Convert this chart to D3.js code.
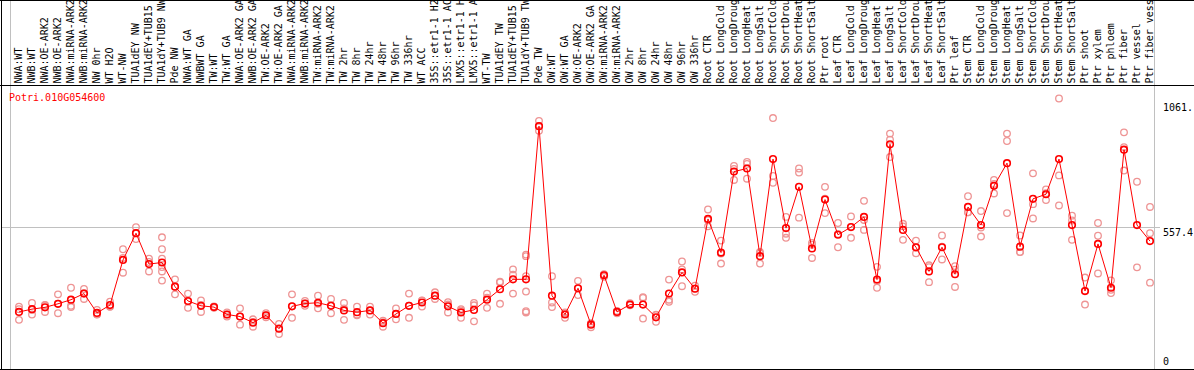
<!DOCTYPE html>
<html>
<head>
<meta charset="utf-8">
<script src="https://cdn.jsdelivr.net/npm/d3@7"></script>
<style>
  body { margin: 0; background: #fff; }
  svg { display: block; }
  text { font-family: 'DejaVu Sans Mono', monospace; font-size: 10px; }
</style>
</head>
<body>
<svg id="chart" width="1194" height="370"></svg>
<script>
const geneName = 'Potri.010G054600';

const categories = [
  'NWA:WT', 'NWB:WT', 'NWA:OE-ARK2', 'NWB:OE-ARK2', 'NWA:miRNA-ARK2', 'NWB:miRNA-ARK2',
  'NW 0hr', 'WT H2O', 'WT-NW', 'TUA1dEY NW', 'TUA1dEY+TUB15 NW', 'TUA1dY+TUB9 NW', 'Pde NW',
  'NWA:WT GA', 'NWBWT GA', 'TW:WT', 'TW:WT GA', 'NWA:OE-ARK2 GA', 'NWB:OE-ARK2 GA',
  'TW:OE-ARK2', 'TW:OE-ARK2 GA', 'NWA:miRNA-ARK2', 'NWB:miRNA-ARK2', 'TW:miRNA-ARK2', 'TW:miRNA-ARK2',
  'TW 2hr', 'TW 8hr', 'TW 24hr', 'TW 48hr', 'TW 96hr', 'TW 336hr', 'WT ACC',
  '35S::etr1-1 H2O', '35S::etr1-1 ACC', 'LMX5::etr1-1 H2O', 'LMX5::etr1-1 ACC',
  'WT-TW', 'TUA1dEY TW', 'TUA1dEY+TUB15 TW', 'TUA1dY+TUB9 TW', 'Pde TW',
  'OW:WT', 'OW:WT GA', 'OW:OE-ARK2', 'OW:OE-ARK2 GA', 'OW:miRNA-ARK2', 'OW:miRNA-ARK2',
  'OW 2hr', 'OW 8hr', 'OW 24hr', 'OW 48hr', 'OW 96hr', 'OW 336hr',
  'Root CTR', 'Root LongCold', 'Root LongDrought', 'Root LongHeat', 'Root LongSalt',
  'Root ShortCold', 'Root ShortDrought', 'Root ShortHeat', 'Root ShortSalt', 'Ptr root',
  'Leaf CTR', 'Leaf LongCold', 'Leaf LongDrought', 'Leaf LongHeat', 'Leaf LongSalt',
  'Leaf ShortCold', 'Leaf ShortDrought', 'Leaf ShortHeat', 'Leaf ShortSalt', 'Ptr leaf',
  'Stem CTR', 'Stem LongCold', 'Stem LongDrought', 'Stem LongHeat', 'Stem LongSalt',
  'Stem ShortCold', 'Stem ShortDrought', 'Stem ShortHeat', 'Stem ShortSalt', 'Ptr shoot', 'Ptr xylem',
  'Ptr phloem', 'Ptr fiber', 'Ptr vessel', 'Ptr fiber vessel'
];

// number of categories between grey separators
const groupSizes = [13, 28, 12, 10, 10, 11, 1, 1, 1, 1];

const means = [
  224, 235, 242, 256, 272, 296, 220, 251, 428, 533, 412, 418, 323,
  267, 248, 243, 214, 206, 182, 211, 158, 246, 257, 260, 248, 230, 223, 230, 180, 216,
  248, 261, 288, 246, 222, 232, 272, 313, 352, 352, 953,
  288, 214, 317, 174, 368, 224, 253, 253, 203, 296, 379, 315,
  589, 457, 775, 787, 443, 824, 553, 715, 473, 665,
  527, 557, 597, 351, 882, 546, 478, 383, 478, 372,
  636, 565, 719, 808, 480, 668, 686, 824, 565, 306, 491,
  319, 861, 565, 502
];

const replicates = [
  [245, 235, 193], [259, 232, 214], [251, 250, 224], [293, 256, 219], [319, 248, 243],
  [314, 298, 275], [232, 214, 215], [264, 245, 244], [470, 436, 378], [557, 533, 510],
  [433, 420, 383], [517, 470, 433, 400, 383, 347], [352, 323, 293],
  [296, 265, 240], [269, 251, 224], [246, 243, 240], [222, 214, 206], [238, 206, 174],
  [195, 184, 166], [219, 211, 203], [177, 160, 137], [293, 246, 201], [267, 257, 248],
  [288, 256, 238], [275, 250, 219], [259, 238, 193], [245, 214, 211], [245, 230, 214],
  [190, 184, 166], [238, 216, 195], [296, 248, 201], [269, 268, 245], [301, 288, 275],
  [262, 253, 222], [235, 230, 201], [259, 250, 187], [296, 280, 240], [343, 340, 256],
  [391, 370, 296], [449, 443, 364, 304, 227, 222], [974, 953, 935],
  [364, 261, 243], [222, 218, 201], [346, 317, 290], [180, 178, 164], [372, 370, 362],
  [228, 224, 219], [258, 252, 250], [282, 279, 198], [211, 213, 185], [351, 272, 264],
  [422, 391, 325], [327, 316, 303],
  [626, 584, 560], [504, 453, 414], [797, 785, 742], [813, 805, 747], [459, 455, 414],
  [985, 758, 731], [597, 531, 515], [787, 771, 594], [488, 495, 436], [715, 668, 612],
  [573, 530, 478], [599, 557, 515], [660, 585, 546], [401, 345, 319], [924, 900, 832],
  [570, 560, 507], [504, 476, 454], [407, 400, 341], [524, 480, 430], [404, 390, 322],
  [678, 615, 615], [620, 555, 520], [742, 726, 689], [924, 895, 612], [524, 459, 459],
  [768, 647, 591], [705, 690, 663], [1061.7, 760, 642], [602, 583, 507], [359, 306, 253],
  [573, 523, 375],
  [348, 311, 298], [929, 871, 779], [735, 399], [636, 533, 339]
];

const yTicks = [0, 557.4, 1061.7];

const W = 1194, H = 370;
const headerBottom = 85, plotBottom = 369, plotLeft = 10, plotRight = 1154;
const svg = d3.select('#chart');

const maxVal = d3.max(replicates.flat());
const y = d3.scaleLinear().domain([0, maxVal * 1.05]).range([plotBottom, headerBottom]);
const x = d3.scaleBand().domain(d3.range(categories.length)).range([plotLeft, plotRight]);
const px = i => x(i) + 9;

// header only has room for 14 monospace chars — show what fits
const labelFit = s => s.slice(0, 14);

// Group separators — grey verticals through header and plot
const bounds = [0].concat(d3.cumsum(groupSizes));
svg.append('g').selectAll('line').data(bounds).enter().append('line')
  .attr('x1', d => Math.round(x(d) ?? plotRight) + 0.5)
  .attr('x2', d => Math.round(x(d) ?? plotRight) + 0.5)
  .attr('y1', 0).attr('y2', plotBottom)
  .attr('stroke', '#c0c0c0').attr('stroke-width', 1);

// Mid gridline
svg.append('line')
  .attr('x1', 1).attr('x2', 1160)
  .attr('y1', Math.round(y(yTicks[1])) + 0.5).attr('y2', Math.round(y(yTicks[1])) + 0.5)
  .attr('stroke', '#c0c0c0').attr('stroke-width', 1);

// Frame
const frame = svg.append('g').attr('stroke', '#000').attr('stroke-width', 1);
frame.append('line').attr('x1', 0).attr('x2', W).attr('y1', 0.5).attr('y2', 0.5);
frame.append('line').attr('x1', 0).attr('x2', W).attr('y1', headerBottom + 0.5).attr('y2', headerBottom + 0.5);
frame.append('line').attr('x1', 0).attr('x2', W).attr('y1', plotBottom + 0.5).attr('y2', plotBottom + 0.5);
frame.append('line').attr('x1', 1.5).attr('x2', 1.5).attr('y1', 0).attr('y2', plotBottom + 1);

// Category labels, vertical
svg.append('g').selectAll('text').data(categories).enter().append('text')
  .attr('transform', (d, i) => `translate(${px(i) + 3},${headerBottom - 1.5}) rotate(-90)`)
  .attr('fill', '#000')
  .text(d => labelFit(d));

// Replicate points
const repPts = replicates.flatMap((r, i) => r.map(v => ({ i, v })));
svg.append('g').selectAll('circle').data(repPts).enter().append('circle')
  .attr('cx', d => px(d.i)).attr('cy', d => y(d.v))
  .attr('r', 3.3)
  .attr('fill', 'none')
  .attr('stroke', '#ee9494').attr('stroke-width', 1.3);

// Mean line
svg.append('path')
  .datum(means)
  .attr('d', d3.line().x((d, i) => px(i)).y(d => y(d)))
  .attr('fill', 'none')
  .attr('stroke', '#ff0000').attr('stroke-width', 1);

// Mean points
svg.append('g').selectAll('circle').data(means).enter().append('circle')
  .attr('cx', (d, i) => px(i)).attr('cy', d => y(d))
  .attr('r', 3.3)
  .attr('fill', 'none')
  .attr('stroke', '#ff0000').attr('stroke-width', 1.6);

// Gene title
svg.append('text')
  .attr('x', 9).attr('y', 100.5)
  .attr('fill', '#ff0000')
  .text(geneName);

// Right-side value labels (5 chars fit before the edge)
svg.append('g').selectAll('text').data(yTicks).enter().append('text')
  .attr('x', 1163)
  .attr('y', d => Math.min(Math.max(y(d) + 9, 111), 365))
  .attr('fill', '#000')
  .text(d => (d === 0 ? '0' : d.toFixed(1)).slice(0, 5));
</script>
</body>
</html>
